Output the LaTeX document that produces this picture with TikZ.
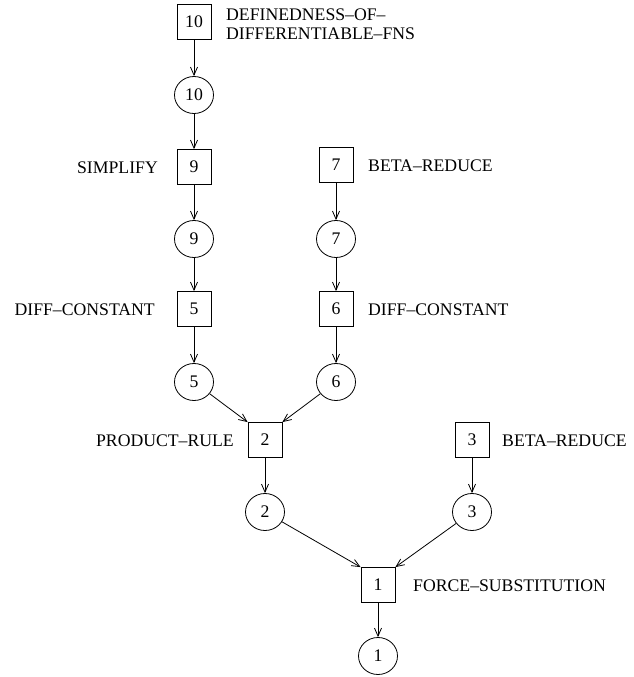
\documentclass[tikz,border=0pt]{standalone}
\usepackage{fontspec}
\setmainfont{Liberation Serif}
\usepackage{tikz}
\usetikzlibrary{shapes,arrows.meta}

\begin{document}
\begin{tikzpicture}[x=1pt,y=-1pt,
    font=\fontsize{17.7}{18.6}\selectfont,
    opbox/.style={draw, line width=0.8pt, rectangle, minimum width=34pt, minimum height=35pt, inner sep=0pt},
    goalnode/.style={draw, line width=0.8pt, ellipse, minimum width=39pt, minimum height=37pt, inner sep=0pt},
    tag/.style={inner sep=0pt},
    link/.style={line width=0.8pt, -{Straight Barb[length=8pt,width=7pt]}}]
    \useasboundingbox (0,0) rectangle (633,677);
    % method applications (boxes) and goals (ellipses)
    \node[opbox] (b10) at (194,22) {10};
    \node[goalnode] (c10) at (194,95) {10};
    \node[opbox] (b9) at (194,167) {9};
    \node[goalnode] (c9) at (194,239) {9};
    \node[opbox] (b5) at (194,309) {5};
    \node[goalnode] (c5) at (194,382) {5};
    \node[opbox] (b7) at (336,165) {7};
    \node[goalnode] (c7) at (336,239) {7};
    \node[opbox] (b6) at (336,309) {6};
    \node[goalnode] (c6) at (336,382) {6};
    \node[opbox] (b2) at (265,440) {2};
    \node[goalnode] (c2) at (265,512) {2};
    \node[opbox] (b3) at (472,440) {3};
    \node[goalnode] (c3) at (472,512) {3};
    \node[opbox] (b1) at (378,585) {1};
    \node[goalnode] (c1) at (378,656) {1};
    % method names
    \node[tag, anchor=north west, align=left] (t10) at (226,9) {DEFINEDNESS--OF--\\DIFFERENTIABLE--FNS};
    \node[tag, anchor=east] (t9) at (158,168) {SIMPLIFY};
    \node[tag, anchor=west] (t7) at (368,166) {BETA--REDUCE};
    \node[tag, anchor=east] (t5) at (155,310) {DIFF--CONSTANT};
    \node[tag, anchor=west] (t6) at (368,310) {DIFF--CONSTANT};
    \node[tag, anchor=east] (t2) at (234,441) {PRODUCT--RULE};
    \node[tag, anchor=west] (t3) at (502,441) {BETA--REDUCE};
    \node[tag, anchor=west] (t1) at (413,586) {FORCE--SUBSTITUTION};
    % links
    \draw[link] (b10) -- (c10);
    \draw[link] (c10) -- (b9);
    \draw[link] (b9) -- (c9);
    \draw[link] (c9) -- (b5);
    \draw[link] (b5) -- (c5);
    \draw[link] (b7) -- (c7);
    \draw[link] (c7) -- (b6);
    \draw[link] (b6) -- (c6);
    \draw[link] (c5) -- (b2.north west);
    \draw[link] (c6) -- (b2.north east);
    \draw[link] (b2) -- (c2);
    \draw[link] (b3) -- (c3);
    \draw[link] (c2) -- (b1.north west);
    \draw[link] (c3) -- (b1.north east);
    \draw[link] (b1) -- (c1);
\end{tikzpicture}
\end{document}
